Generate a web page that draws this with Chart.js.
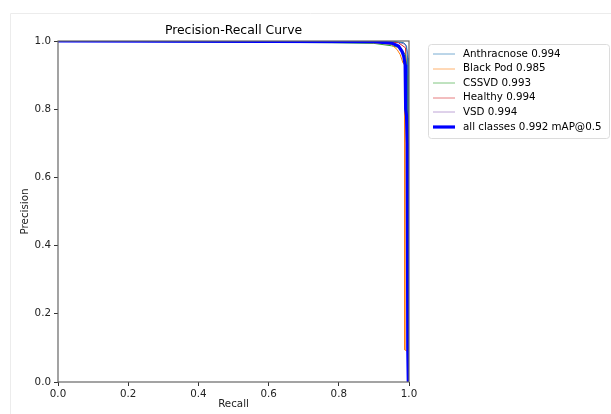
<!DOCTYPE html>
<html>
<head>
<meta charset="utf-8">
<script src="https://cdn.jsdelivr.net/npm/chart.js@4.4.1/dist/chart.umd.min.js"></script>
<style>
html,body{margin:0;padding:0;background:#fff;}
canvas{display:block;}
</style>
</head>
<body>
<canvas id="prChart" width="611" height="414"></canvas>
<script>
// class names and AP values from the legend
const classNames = ["Anthracnose", "Black Pod", "CSSVD", "Healthy", "VSD"];
const classAP = [0.994, 0.985, 0.993, 0.994, 0.994];
const allAP = 0.992;
const classColors = ["#1f77b4", "#ff7f0e", "#2ca02c", "#d62728", "#9467bd"];

// curve points (recall, precision)
const anthRecall    = [0, 0.95, 0.985, 0.993, 0.996, 0.997, 0.998, 1.0];
const anthPrecision = [1, 1.0, 0.995, 0.985, 0.95, 0.90, 0.0, 0.0];

const blackPodRecall    = [0, 0.78, 0.90, 0.95, 0.966, 0.975, 0.983, 0.988, 0.988, 0.996, 0.996, 1.0];
const blackPodPrecision = [1, 0.997, 0.995, 0.99, 0.975, 0.96, 0.935, 0.93, 0.094, 0.09, 0.0, 0.0];

const cssvdRecall    = [0, 0.78, 0.90, 0.95, 0.975, 0.99, 0.995, 0.997, 1.0];
const cssvdPrecision = [1, 0.995, 0.993, 0.986, 0.98, 0.96, 0.90, 0.0, 0.0];

const healthyRecall    = [0, 0.90, 0.97, 0.99, 0.994, 0.995, 0.996, 0.996, 0.997, 1.0];
const healthyPrecision = [1, 1.0, 0.995, 0.98, 0.90, 0.75, 0.65, 0.09, 0.0, 0.0];

const vsdRecall    = [0, 0.95, 0.975, 0.99, 0.997, 0.999, 0.999, 1.0];
const vsdPrecision = [1, 1.0, 0.995, 0.99, 0.96, 0.94, 0.0, 0.0];

const allRecall    = [0, 0.90, 0.95, 0.97, 0.98, 0.985, 0.989, 0.990, 0.991, 0.993, 0.995, 0.996, 0.997, 0.998, 1.0];
const allPrecision = [1, 0.998, 0.994, 0.985, 0.97, 0.955, 0.93, 0.85, 0.80, 0.78, 0.70, 0.40, 0.10, 0.0, 0.0];

const xTicks = [0, 0.2, 0.4, 0.6, 0.8, 1.0];
const yTicks = [0, 0.2, 0.4, 0.6, 0.8, 1.0];

function toPoints(rs, ps) {
  return rs.map((r, i) => ({ x: r, y: ps[i] }));
}

const classRecalls = [anthRecall, blackPodRecall, cssvdRecall, healthyRecall, vsdRecall];
const classPrecisions = [anthPrecision, blackPodPrecision, cssvdPrecision, healthyPrecision, vsdPrecision];

const datasets = classNames.map((name, i) => ({
  label: name + " " + classAP[i].toFixed(3),
  data: toPoints(classRecalls[i], classPrecisions[i]),
  borderColor: classColors[i],
  borderWidth: 1,
  order: 1
}));
datasets.push({
  label: "all classes " + allAP.toFixed(3) + " mAP@0.5",
  data: toPoints(allRecall, allPrecision),
  borderColor: "#0000ff",
  borderWidth: 3.2,
  order: 0
});

const FONT = "'DejaVu Sans', sans-serif";

const framePlugin = {
  id: "frame",
  beforeDraw(chart) {
    const ctx = chart.ctx;
    ctx.save();
    ctx.strokeStyle = "#ececec";
    ctx.lineWidth = 1;
    ctx.beginPath();
    ctx.moveTo(10.5, 414);
    ctx.lineTo(10.5, 13.5);
    ctx.lineTo(611, 13.5);
    ctx.stroke();
    ctx.restore();
  },
  afterDatasetsDraw(chart) {
    const a = chart.chartArea;
    const ctx = chart.ctx;
    ctx.save();
    ctx.strokeStyle = "#666";
    ctx.lineWidth = 1.2;
    ctx.strokeRect(a.left, a.top, a.right - a.left, a.bottom - a.top);
    ctx.restore();
  },
  afterDraw(chart) {
    const a = chart.chartArea;
    const ctx = chart.ctx;
    ctx.save();
    // title
    ctx.fillStyle = "#000";
    ctx.font = "12.4px " + FONT;
    ctx.textAlign = "center";
    ctx.textBaseline = "middle";
    ctx.fillText("Precision-Recall Curve", (a.left + a.right) / 2, 31);

    // legend
    const bx = 428, by = 44, bw = 181, bh = 94;
    ctx.fillStyle = "rgba(255,255,255,0.8)";
    ctx.strokeStyle = "#dcdcdc";
    ctx.lineWidth = 1;
    ctx.beginPath();
    ctx.roundRect(bx + 0.5, by + 0.5, bw, bh, 3);
    ctx.fill();
    ctx.stroke();
    ctx.font = "10.3px " + FONT;
    ctx.textAlign = "left";
    ctx.textBaseline = "middle";
    chart.data.datasets.forEach((ds, i) => {
      const y = 54 + i * 14.6;
      ctx.strokeStyle = ds.borderColor;
      ctx.globalAlpha = ds.borderWidth > 2 ? 1 : 0.6;
      ctx.lineWidth = ds.borderWidth;
      ctx.beginPath();
      ctx.moveTo(433, Math.round(y));
      ctx.lineTo(455, Math.round(y));
      ctx.stroke();
      ctx.globalAlpha = 1;
      ctx.fillStyle = "#000";
      ctx.fillText(ds.label, 463, y);
    });
    ctx.restore();
  }
};

new Chart(document.getElementById("prChart"), {
  type: "line",
  data: { datasets: datasets },
  options: {
    responsive: false,
    animation: false,
    devicePixelRatio: 1,
    layout: { padding: { top: 41, right: 202, left: 0, bottom: 0 } },
    elements: { point: { radius: 0 }, line: { tension: 0 } },
    plugins: {
      legend: { display: false },
      tooltip: { enabled: false },
      title: { display: false }
    },
    scales: {
      x: {
        type: "linear",
        min: 0,
        max: 1,
        afterFit: s => { s.height = 32; },
        afterBuildTicks: s => { s.ticks = xTicks.map(v => ({ value: v })); },
        ticks: {
          callback: v => v.toFixed(1),
          font: { family: FONT, size: 10.3 },
          color: "#222",
          padding: 2,
          maxRotation: 0
        },
        grid: { drawOnChartArea: false, drawTicks: true, tickLength: 4, color: "#333" },
        border: { display: false },
        title: {
          display: true,
          text: "Recall",
          font: { family: FONT, size: 10.3 },
          color: "#222",
          padding: { top: 0, bottom: 3 }
        }
      },
      y: {
        type: "linear",
        min: 0,
        max: 1,
        afterFit: s => { s.width = 58; },
        afterBuildTicks: s => { s.ticks = yTicks.map(v => ({ value: v })); },
        ticks: {
          callback: v => v.toFixed(1),
          font: { family: FONT, size: 10.3 },
          color: "#222",
          padding: 3
        },
        grid: { drawOnChartArea: false, drawTicks: true, tickLength: 4, color: "#333" },
        border: { display: false },
        title: {
          display: true,
          text: "Precision",
          font: { family: FONT, size: 10.3 },
          color: "#222",
          padding: { top: 19, bottom: 0 }
        }
      }
    }
  },
  plugins: [framePlugin]
});
</script>
</body>
</html>
